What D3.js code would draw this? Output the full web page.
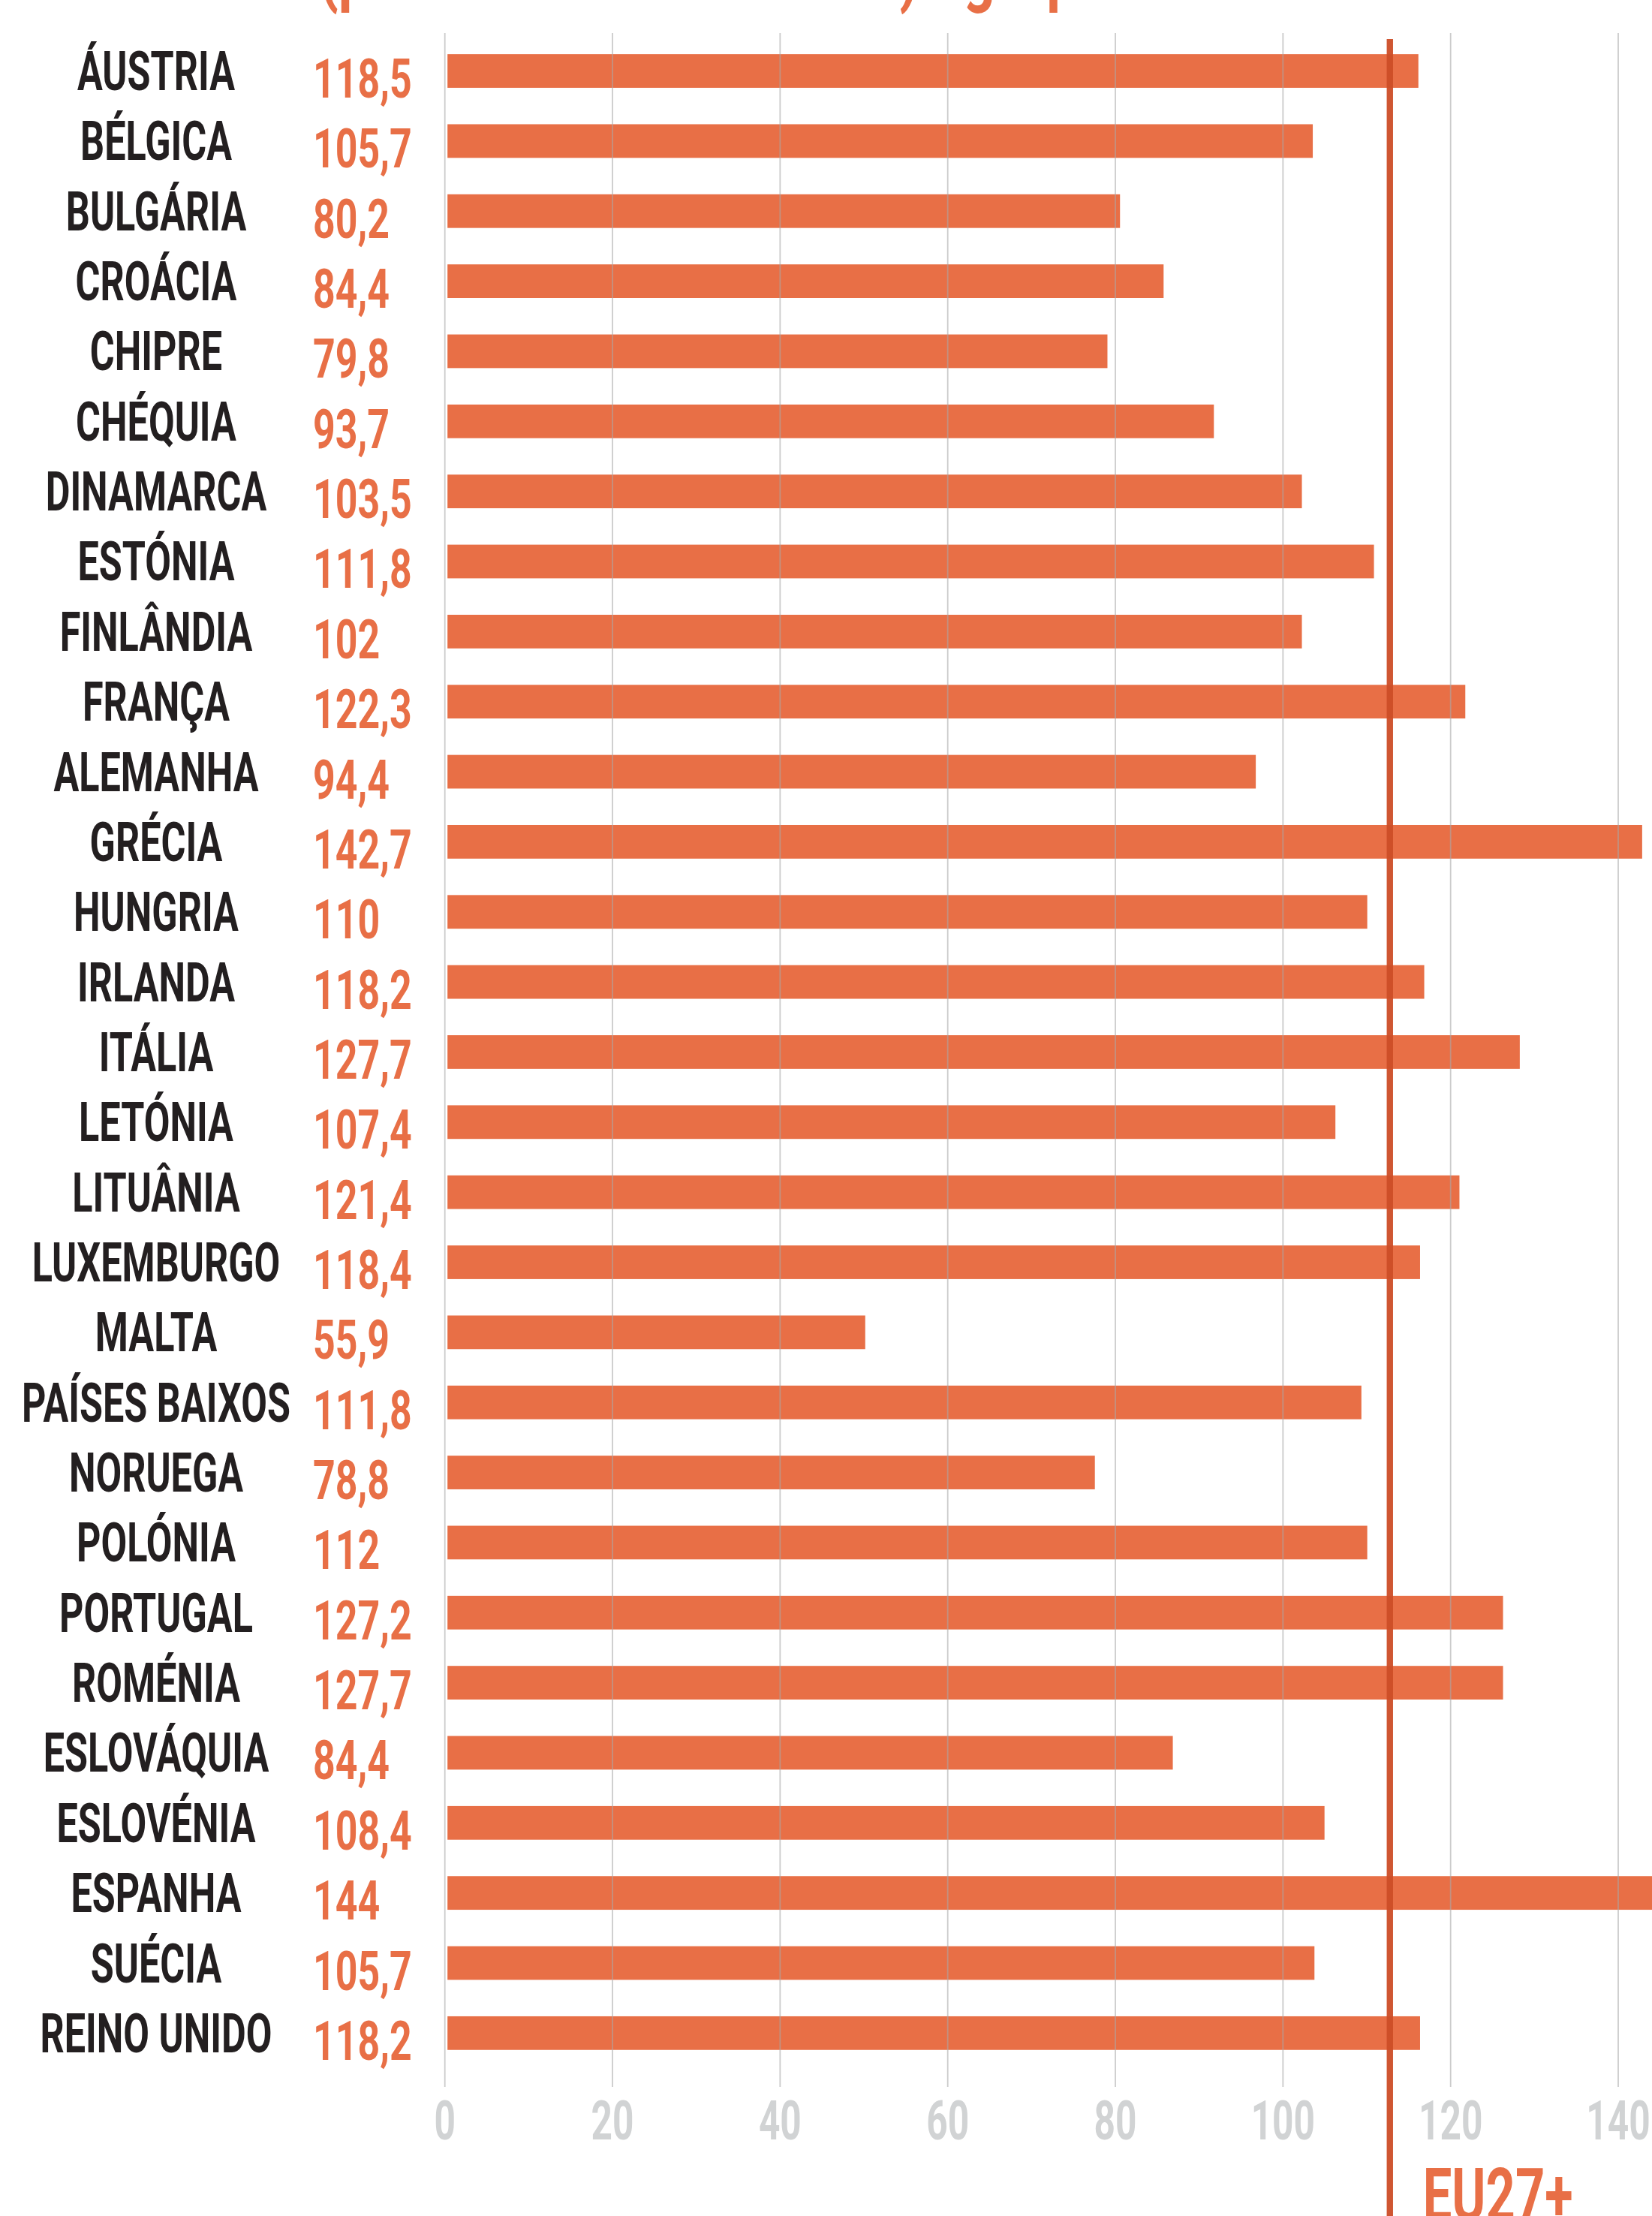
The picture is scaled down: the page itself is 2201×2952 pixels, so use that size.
<!DOCTYPE html>
<html>
<head>
<meta charset="utf-8">
<script src="https://cdn.jsdelivr.net/npm/d3@7"></script>
<style>
  body { margin: 0; background: #fff; }
  svg { display: block; }
  text { font-family: Roboto, "DejaVu Sans", sans-serif; font-weight: 700; }
</style>
</head>
<body>
<div id="chart"></div>
<script>
// Countries, printed values and bar lengths
const countries = ["ÁUSTRIA", "BÉLGICA", "BULGÁRIA", "CROÁCIA", "CHIPRE", "CHÉQUIA", "DINAMARCA",
  "ESTÓNIA", "FINLÂNDIA", "FRANÇA", "ALEMANHA", "GRÉCIA", "HUNGRIA", "IRLANDA", "ITÁLIA",
  "LETÓNIA", "LITUÂNIA", "LUXEMBURGO", "MALTA", "PAÍSES BAIXOS", "NORUEGA", "POLÓNIA",
  "PORTUGAL", "ROMÉNIA", "ESLOVÁQUIA", "ESLOVÉNIA", "ESPANHA", "SUÉCIA", "REINO UNIDO"];

const valueLabels = ["118,5", "105,7", "80,2", "84,4", "79,8", "93,7", "103,5",
  "111,8", "102", "122,3", "94,4", "142,7", "110", "118,2", "127,7",
  "107,4", "121,4", "118,4", "55,9", "111,8", "78,8", "112",
  "127,2", "127,7", "84,4", "108,4", "144", "105,7", "118,2"];

const barValues = [116.2, 103.6, 80.6, 85.8, 79.1, 91.8, 102.3,
  110.9, 102.3, 121.8, 96.8, 142.9, 110.1, 116.9, 128.3,
  106.3, 121.1, 116.4, 50.2, 109.4, 77.6, 110.1,
  126.3, 126.3, 86.9, 105.0, 144.5, 103.8, 116.4];

const tickValues = [0, 20, 40, 60, 80, 100, 120, 140];
const euValue = 112.8;
const euLabel = "EU27+";
const titleText = "(por 100 mil habitantes) · grupo EU27+";

const W = 2201, H = 2952;
const orange = "#e86f46";
const euColor = "#cc4d27";
const dark = "#231f20";
const gridTop = 44, gridBottom = 2780;

const data = countries.map((c, i) => ({ country: c, label: valueLabels[i], value: barValues[i] }));

const svg = d3.select("#chart").append("svg")
  .attr("width", W)
  .attr("height", H);

svg.append("rect").attr("width", W).attr("height", H).attr("fill", "#fff");

// scales
const x = d3.scaleLinear()
  .domain([0, 140])
  .range([592.2, 2155.5]);

const y = d3.scaleBand()
  .domain(countries)
  .range([23.6, 2779.3])
  .padding(0.52);

// cut-off title at the top
svg.append("g")
  .attr("transform", "translate(425,-3) scale(0.74,1)")
  .append("text")
  .attr("font-size", 100)
  .attr("fill", orange)
  .text(titleText);

// bars
svg.selectAll(".bar")
  .data(data)
  .enter().append("rect")
  .attr("class", "bar")
  .attr("x", x(0) + 4)
  .attr("y", d => y(d.country))
  .attr("width", d => x(d.value) - x(0) - 4)
  .attr("height", y.bandwidth())
  .attr("fill", orange);

// gridlines (drawn over the bars)
const grid = svg.append("g")
  .attr("transform", `translate(0,${gridBottom})`)
  .call(d3.axisBottom(x).tickValues(tickValues).tickSize(-(gridBottom - gridTop)).tickFormat(""));
grid.select(".domain").remove();
grid.selectAll("line")
  .attr("stroke", "#a8a8a8")
  .attr("stroke-opacity", 0.6)
  .attr("stroke-width", 1.8);

// tick labels
const axis = svg.append("g")
  .attr("transform", `translate(0,${gridBottom})`)
  .call(d3.axisBottom(x).tickValues(tickValues).tickSize(0));
axis.select(".domain").remove();
axis.selectAll("text")
  .attr("y", 0)
  .attr("dy", 0)
  .attr("transform", "translate(0,70) scale(0.68,1)")
  .attr("fill", "#d1d3d4")
  .attr("font-size", 73)
  .attr("font-family", "Roboto, sans-serif")
  .attr("font-weight", 700);

// country names
svg.selectAll(".country")
  .data(data)
  .enter().append("g")
  .attr("class", "country")
  .attr("transform", d => `translate(208,${y(d.country) + y.bandwidth() / 2 + 25.5}) scale(0.69,1)`)
  .append("text")
  .attr("text-anchor", "middle")
  .attr("font-size", 73)
  .attr("fill", dark)
  .text(d => d.country);

// printed values
svg.selectAll(".value")
  .data(data)
  .enter().append("g")
  .attr("class", "value")
  .attr("transform", d => `translate(417,${y(d.country) + y.bandwidth() / 2 + 35.5}) scale(0.71,1)`)
  .append("text")
  .attr("font-size", 73)
  .attr("font-weight", 500)
  .attr("fill", orange)
  .text(d => d.label);

// EU27+ reference line
svg.append("line")
  .attr("x1", x(euValue))
  .attr("x2", x(euValue))
  .attr("y1", 52)
  .attr("y2", H)
  .attr("stroke", euColor)
  .attr("stroke-opacity", 0.95)
  .attr("stroke-width", 8.4);

svg.append("g")
  .attr("transform", `translate(${x(euValue) + 44},2958) scale(0.7,1)`)
  .append("text")
  .attr("font-size", 98)
  .attr("font-weight", 500)
  .attr("fill", orange)
  .text(euLabel);
</script>
</body>
</html>
